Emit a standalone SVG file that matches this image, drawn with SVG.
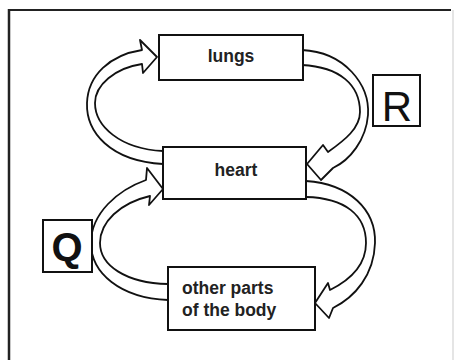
<svg xmlns="http://www.w3.org/2000/svg" width="457" height="360" viewBox="0 0 457 360">
<style>
.box{fill:#fff;stroke:#111;stroke-width:2}
.arr{fill:#fff;stroke:#111;stroke-width:1.8;stroke-linejoin:round}
.t{font-family:"Liberation Sans",Arial,sans-serif;font-size:17.5px;font-weight:bold;fill:#222}
.lbl{font-family:"Liberation Sans",Arial,sans-serif;fill:#111}
</style>
<rect width="457" height="360" fill="#fff"/>
<g id="frame">
<line x1="9" y1="10" x2="451" y2="10" stroke="#222" stroke-width="2"/>
<line x1="9" y1="9" x2="9" y2="360" stroke="#222" stroke-width="2.5"/>
<line x1="453" y1="10" x2="453" y2="360" stroke="#ddd" stroke-width="1.5"/>
</g>
<g id="connectors">
<path class="arr" d="M163,164 C110,161 86,132 87,103 C88,75 110,55 142,50 L140,40 L157,57 L143,73 L142,64 C115,68 95,85 95,103 C95,126 120,149 163,151"/>
<path class="arr" d="M302,50 C345,52 370,85 368,115 C366,140 350,160 333,168 L321,180 L307,164 L323,145 L328,152 C345,140 360,128 360,112 C360,85 340,67 302,65"/>
<path class="arr" d="M168,300 C120,298 91,273 91,243 C91,213 118,190 146,180 L147,168 L163,189 L149,205 L150,196 C120,203 100,222 100,243 C100,265 125,283 168,284"/>
<path class="arr" d="M306,181 C350,184 376,210 375,243 C374,275 355,297 333,308 L329,318 L315,303 L328,283 L330,290 C350,280 366,265 366,243 C366,215 345,198 306,197"/>
</g>
<g id="lungs">
<rect class="box" x="159" y="35" width="144" height="45"/>
<text class="t" x="231" y="62" text-anchor="middle">lungs</text>
</g>
<g id="heart">
<rect class="box" x="163" y="147" width="143" height="52"/>
<text class="t" x="236" y="176" text-anchor="middle">heart</text>
</g>
<g id="other">
<rect class="box" x="168" y="267" width="147" height="63"/>
<text class="t" x="182" y="294">other parts</text>
<text class="t" x="182" y="316">of the body</text>
</g>
<g id="labelR">
<rect class="box" x="373" y="75" width="47" height="51"/>
<text class="lbl" x="397" y="121" text-anchor="middle" font-size="42">R</text>
</g>
<g id="labelQ">
<rect class="box" x="43" y="220" width="49" height="52"/>
<text class="lbl" x="67" y="261" text-anchor="middle" font-size="40" font-weight="bold">Q</text>
</g>
</svg>
